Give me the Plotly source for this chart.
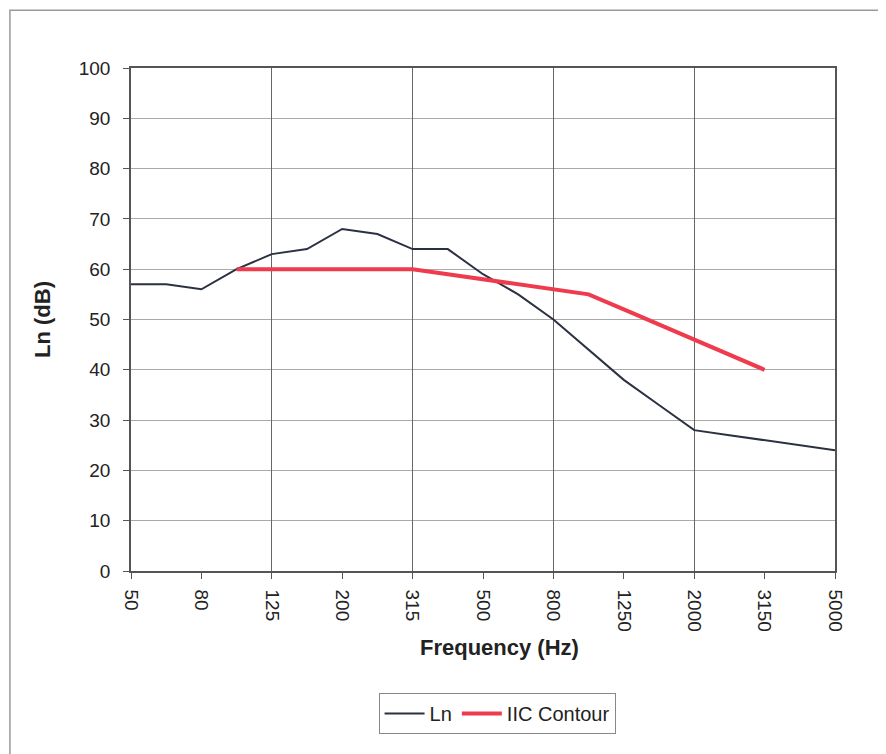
import plotly.graph_objects as go

freqs = ["50", "63", "80", "100", "125", "160", "200", "250", "315", "400", "500",
         "630", "800", "1000", "1250", "1600", "2000", "2500", "3150", "4000", "5000"]
ln_values = [57, 57, 56, 60, 63, 64, 68, 67, 64, 64, 59, 55, 50, 44, 38, 33, 28, 27, 26, 25, 24]

iic_freqs = ["100", "125", "160", "200", "250", "315", "400", "500", "630", "800",
             "1000", "1250", "1600", "2000", "2500", "3150"]
iic_values = [60, 60, 60, 60, 60, 60, 59, 58, 57, 56, 55, 52, 49, 46, 43, 40]

tick_labels = ["50", "80", "125", "200", "315", "500", "800", "1250", "2000", "3150", "5000"]
grid_labels = ["125", "315", "800", "2000"]

font_family = "Liberation Sans, Arial, sans-serif"

fig = go.Figure()
fig.add_trace(go.Scatter(x=freqs, y=ln_values, mode="lines", name="Ln",
                         line=dict(color="#2b3142", width=2)))
fig.add_trace(go.Scatter(x=iic_freqs, y=iic_values, mode="lines", name="IIC Contour",
                         line=dict(color="#ee3b4e", width=4)))
# invisible trace to activate grid axis
fig.add_trace(go.Scatter(x=freqs, y=ln_values, xaxis="x2", mode="lines",
                         line=dict(width=0), hoverinfo="skip", showlegend=False, opacity=0))

fig.update_layout(
    width=886, height=754,
    margin=dict(l=123, r=59, t=60, b=191),
    paper_bgcolor="white", plot_bgcolor="white",
    font=dict(family=font_family, size=19, color="#222"),
    showlegend=True,
    legend=dict(orientation="h", x=0.52, y=-0.2425, xanchor="center", yanchor="top",
                bordercolor="#888", borderwidth=1, font=dict(size=20, color="#222"),
                itemwidth=40, bgcolor="white"),
    xaxis=dict(type="category", categoryorder="array", categoryarray=freqs,
               range=[0, 20], tickmode="array", tickvals=tick_labels, ticktext=tick_labels,
               tickangle=90, ticks="outside", ticklen=6, tickcolor="#555",
               ticklabelstandoff=7,
               showgrid=False, showline=True, linecolor="#555", linewidth=1.5, mirror=True,
               tickfont=dict(size=19), zeroline=False),
    xaxis2=dict(type="category", categoryorder="array", categoryarray=freqs,
                range=[0, 20], overlaying="x", tickmode="array", tickvals=grid_labels,
                showticklabels=False, showgrid=True, gridcolor="#666", gridwidth=1,
                ticks="", showline=False, zeroline=False),
    yaxis=dict(range=[0, 100], dtick=10, ticks="outside", ticklen=6, tickcolor="#555",
               ticklabelstandoff=9,
               showgrid=True, gridcolor="#aaa", gridwidth=1, showline=True,
               linecolor="#555", linewidth=1.5, mirror=True, zeroline=False,
               title=dict(text="<b>Ln (dB)</b>", font=dict(size=22), standoff=22),
               tickfont=dict(size=19)),
    annotations=[dict(text="<b>Frequency (Hz)</b>", xref="paper", yref="paper",
                      x=0.524, y=-0.153, xanchor="center", yanchor="middle",
                      showarrow=False, font=dict(size=22, color="#222"))],
    shapes=[dict(type="rect", xref="paper", yref="paper",
                 x0=-0.172, x1=1.08, y0=-0.4, y1=1.115,
                 line=dict(color="#999", width=1.5), layer="below")],
)

fig.write_html("out.html")
